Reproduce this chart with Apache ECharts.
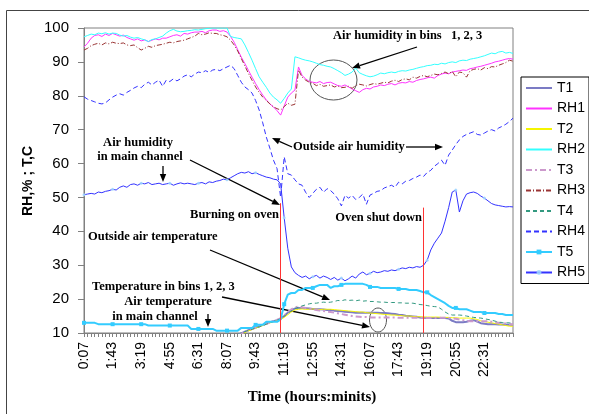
<!DOCTYPE html>
<html>
<head>
<meta charset="utf-8">
<script src="https://cdn.jsdelivr.net/npm/echarts@6/dist/echarts.min.js"></script>
<style>
  html, body { margin: 0; padding: 0; background: #fff; }
  #chart { width: 589px; height: 414px; }
</style>
</head>
<body>
<div id="chart"></div>
<script>
// time of each reading (12 min step)
const TIMES = [
  '0:07','0:19','0:31','0:43','0:55','1:07','1:19','1:31','1:43','1:55',
  '2:07','2:19','2:31','2:43','2:55','3:07','3:19','3:31','3:43','3:55',
  '4:07','4:19','4:31','4:43','4:55','5:07','5:19','5:31','5:43','5:55',
  '6:07','6:19','6:31','6:43','6:55','7:07','7:19','7:31','7:43','7:55',
  '8:07','8:19','8:31','8:43','8:55','9:07','9:19','9:31','9:43','9:55',
  '10:07','10:19','10:31','10:43','10:55','11:07','11:19','11:31','11:43','11:55',
  '12:07','12:19','12:31','12:43','12:55','13:07','13:19','13:31','13:43','13:55',
  '14:07','14:19','14:31','14:43','14:55','15:07','15:19','15:31','15:43','15:55',
  '16:07','16:19','16:31','16:43','16:55','17:07','17:19','17:31','17:43','17:55',
  '18:07','18:19','18:31','18:43','18:55','19:07','19:19','19:31','19:43','19:55',
  '20:07','20:19','20:31','20:43','20:55','21:07','21:19','21:31','21:43','21:55',
  '22:07','22:19','22:31','22:43','22:55','23:07','23:19','23:31','23:43','23:55',
  '24:07'
];
const TICK_LABELS = ['0:07','1:43','3:19','4:55','6:31','8:07','9:43','11:19',
  '12:55','14:31','16:07','17:43','19:19','20:55','22:31'];
const Y_TICKS = [10, 20, 30, 40, 50, 60, 70, 80, 90, 100];

const OVEN_ON = '11:07';
const OVEN_OFF = '19:07';

// bin temperatures T1..T4 start at 8:43 (below 10 before that)
const TEMP_START = 43;

const T1 = [
  9.4, 9.9, 10.4, 10.8, 11.2, 11.6, 12.0,
  12.4, 12.8, 13.2, 13.5, 13.8, 14.2, 15.0, 16.0, 16.8, 17.2,
  17.4, 17.4, 17.3, 17.2, 17.1, 17.0, 17.0, 16.9, 16.8, 16.8,
  16.6, 16.5, 16.4, 16.3, 16.2, 16.1, 16.0, 16.0, 16.0, 16.0,
  16.0, 16.0, 16.0, 15.9, 15.9, 15.8, 15.7, 15.6, 15.4, 15.3,
  15.1, 15.0, 14.9, 14.8, 14.6, 14.5, 14.4, 14.4, 14.4, 14.4,
  14.4, 14.4, 14.3, 13.6, 13.2, 13.2, 13.2, 13.3, 13.6, 13.8,
  13.4, 12.9, 12.7, 12.6, 12.6, 12.6, 12.5, 12.5, 12.4, 12.4, 12.4
];
const T2 = [
  9.0, 9.6, 10.1, 10.6, 11.0, 11.4, 11.8,
  12.2, 12.6, 13.0, 13.3, 13.6, 14.0, 14.6, 15.4, 16.2, 16.8,
  17.0, 17.1, 17.0, 17.0, 17.1, 17.0, 16.9, 17.0, 17.0, 17.0,
  16.9, 16.8, 16.7, 16.6, 16.5, 16.4, 16.3, 16.2, 16.2, 16.0,
  15.9, 15.8, 15.7, 15.6, 15.5, 15.4, 15.3, 15.3, 15.2, 15.1,
  15.0, 15.0, 14.9, 14.8, 14.8, 14.7, 14.7, 14.7, 14.7, 14.7,
  14.6, 14.6, 14.6, 14.5, 14.5, 14.4, 14.4, 14.4, 14.4, 14.2,
  14.0, 13.6, 13.3, 13.2, 13.0, 12.8, 12.6, 12.4, 12.2, 12.0, 12.0
];
const T3 = [
  9.3, 9.8, 10.3, 10.8, 11.2, 11.6, 12.0,
  12.3, 12.7, 13.1, 13.5, 13.9, 14.4, 15.2, 16.2, 17.0, 17.6,
  17.8, 17.6, 17.4, 17.2, 17.0, 16.8, 16.6, 16.5, 16.3, 16.2,
  16.0, 15.8, 15.6, 15.4, 15.2, 15.0, 14.9, 14.8, 14.7, 14.7,
  14.6, 14.6, 14.6, 14.6, 14.6, 14.6, 14.6, 14.6, 14.5, 14.5,
  14.5, 14.5, 14.5, 14.5, 14.4, 14.4, 14.4, 14.4, 14.4, 14.5,
  14.5, 14.5, 14.4, 14.3, 14.2, 14.0, 13.8, 13.6, 13.5, 13.5,
  13.5, 13.5, 13.5, 13.5, 13.3, 13.2, 13.0, 12.9, 12.8, 12.6, 12.6
];
const T4 = [
  9.6, 10.0, 10.4, 10.8, 11.1, 11.5, 11.8,
  12.2, 12.6, 13.0, 13.4, 13.8, 14.2, 14.9, 15.8, 16.6, 17.2,
  17.6, 18.0, 18.3, 18.6, 18.8, 18.8, 19.0, 19.1, 19.0, 19.1,
  19.3, 19.6, 19.5, 19.8, 19.6, 19.7, 19.5, 19.7, 19.4, 19.5,
  19.3, 19.3, 19.2, 19.1, 19.1, 19.0, 19.0, 19.0, 18.9, 18.9,
  18.8, 18.8, 18.8, 18.6, 18.4, 18.3, 18.1, 17.9, 17.8, 17.7,
  17.0, 16.2, 15.6, 15.3, 15.3, 15.3, 15.2, 15.0, 14.8, 14.6,
  14.5, 14.4, 14.2, 14.0, 13.8, 13.5, 13.2, 13.1, 13.0, 13.0, 12.9
];
const T5 = [
  13.0, 13.0, 13.0, 13.0, 12.6, 12.6, 12.6, 12.6, 12.6, 12.6,
  12.6, 12.6, 12.6, 12.6, 12.6, 12.6, 12.6, 12.6, 12.2, 12.2,
  12.2, 12.2, 12.2, 12.2, 12.2, 12.2, 12.2, 12.2, 12.2, 12.2,
  11.2, 11.2, 11.2, 11.2, 11.2, 11.2, 11.2, 10.7, 10.7, 10.7,
  10.7, 10.7, 10.7, 10.7, 11.5, 11.5, 11.5, 11.5, 12.4, 12.4,
  12.4, 13.3, 13.3, 13.3, 13.3, 14.0, 18.5, 21.3, 21.8, 21.8,
  22.7, 22.7, 23.3, 23.3, 23.3, 23.8, 24.2, 24.2, 24.2, 23.3,
  23.8, 23.8, 24.2, 24.5, 24.5, 24.5, 24.5, 24.5, 24.5, 24.2,
  23.6, 23.6, 23.6, 23.3, 23.3, 23.3, 23.3, 23.3, 23.0, 23.0,
  23.0, 22.7, 22.7, 22.7, 22.4, 22.0, 22.0, 21.2, 20.6, 20.0,
  19.4, 18.8, 18.0, 17.4, 17.4, 17.0, 17.0, 17.0, 16.6, 16.2,
  16.2, 16.2, 15.9, 15.9, 15.9, 15.9, 15.6, 15.6, 15.3, 15.3, 15.3
];

const RH1 = [
  94.4, 95.5, 97.0, 97.8, 98.0, 97.5, 98.2, 97.8, 98.4, 98.0,
  97.6, 97.9, 97.2, 96.8, 96.4, 96.8, 96.2, 96.5, 96.0, 96.4,
  96.8, 96.5, 97.0, 97.0, 97.4, 97.8, 98.0, 97.6, 98.4, 98.2,
  98.6, 98.8, 98.8, 99.0, 98.6, 99.2, 99.4, 99.4, 99.0, 99.2,
  98.8, 97.5, 95.8, 93.6, 91.4, 89.5, 87.5, 85.5, 83.6, 81.8,
  80.2, 78.8, 77.6, 76.7, 75.6, 74.3, 77.0, 79.6, 80.8, 81.7,
  88.5, 86.0, 85.0, 84.2, 84.0, 83.8, 84.2, 83.6, 83.9, 84.0,
  83.5, 83.0, 82.8, 83.2, 82.6, 82.0, 81.5, 81.0, 81.8, 82.2,
  82.0, 82.6, 82.8, 83.2, 83.0, 83.4, 83.6, 83.2, 83.7, 83.9,
  83.8, 84.2, 84.0, 84.5, 84.8, 85.0, 85.3, 85.5, 85.2, 86.0,
  86.4, 86.7, 86.5, 87.0, 87.2, 87.4, 87.6, 87.5, 88.0, 88.2,
  88.5, 88.7, 89.0, 89.3, 89.6, 90.0, 90.2, 90.5, 90.8, 91.0, 90.8
];
const RH2 = [
  97.4, 97.8, 98.2, 98.0, 98.5, 98.3, 98.6, 98.2, 98.5, 98.4,
  97.9, 97.6, 97.8, 97.3, 97.0, 97.2, 96.8, 96.5, 96.0, 96.6,
  96.8, 97.2, 97.6, 98.5, 99.2, 99.6, 99.1, 98.9, 99.0, 99.2,
  99.3, 99.5, 99.4, 99.6, 99.8, 99.9, 100, 100, 100, 100,
  100, 97.5, 97.2, 97.0, 96.8, 95.0, 92.8, 90.5, 88.0, 85.6,
  84.0, 82.5, 80.8, 79.6, 78.8, 77.8, 79.2, 80.8, 82.0, 91.5,
  91.2, 90.8, 90.5, 90.3, 90.0, 89.6, 89.2, 89.0, 88.7, 88.5,
  88.0, 87.4, 86.8, 86.0, 86.4, 87.0, 88.2, 86.8, 86.3, 85.9,
  85.6, 85.8, 86.2, 86.7, 86.5, 86.8, 87.0, 86.8, 87.2, 87.4,
  87.3, 87.6, 87.8, 88.1, 88.4, 88.6, 88.9, 89.0, 89.3, 89.2,
  89.6, 89.4, 89.8, 90.0, 89.8, 90.3, 90.5, 90.4, 90.8, 91.0,
  91.2, 91.5, 91.8, 92.2, 92.6, 92.4, 92.9, 93.1, 92.6, 92.8, 92.5
];
const RH3 = [
  93.5, 94.0, 94.8, 95.2, 95.5, 95.0, 95.6, 95.3, 95.8, 95.5,
  95.4, 95.6, 95.0, 94.8, 95.0, 94.2, 93.5, 94.0, 94.6, 94.3,
  94.8, 95.0, 95.2, 95.5, 95.8, 95.6, 96.0, 96.2, 96.4, 96.8,
  97.2, 97.6, 98.4, 98.0, 98.2, 98.6, 98.4, 98.4, 98.0, 97.8,
  97.4, 96.4, 95.0, 93.2, 91.0, 88.8, 86.6, 84.6, 82.6, 81.0,
  79.6, 78.6, 77.6, 76.7, 76.2, 75.8, 76.8, 77.8, 77.2, 77.5,
  87.6, 85.5, 84.6, 84.0, 83.7, 83.0, 83.4, 82.8, 83.0, 83.2,
  82.6, 82.9, 82.4, 82.5, 82.8, 82.2, 83.0, 83.4, 83.2, 82.9,
  83.3, 83.6, 83.4, 83.7, 84.0, 83.8, 84.3, 84.6, 84.2, 84.8,
  85.0, 84.7, 85.5, 85.2, 85.7, 86.0, 85.6, 86.0, 86.4, 86.2,
  86.6, 87.0, 86.5, 87.2, 85.6, 87.0, 86.8, 85.5, 87.4, 87.8,
  88.0, 87.6, 88.3, 88.0, 88.6, 88.5, 89.0, 89.4, 89.8, 90.5, 90.2
];
const RH4 = [
  79.7, 79.0, 78.6, 78.2, 77.8, 77.6, 77.9, 78.8, 79.6, 80.2,
  80.6, 80.2, 81.0, 81.6, 82.3, 82.8, 82.4, 83.4, 84.0, 83.2,
  84.0, 84.6, 82.8, 84.6, 84.2, 85.0, 84.4, 85.0, 85.8, 86.2,
  85.6, 86.4, 87.0, 86.8, 87.4, 86.9, 87.6, 87.8, 87.4, 88.0,
  88.5, 89.0, 88.0, 86.0, 84.0, 82.6, 81.8, 80.8, 78.6, 75.8,
  72.0, 67.8, 64.5, 61.0, 58.5, 50.0, 62.0, 57.0, 56.6, 55.2,
  54.0, 53.6, 51.5, 50.0, 51.2, 52.4, 53.0, 51.5, 52.6, 52.0,
  51.0, 49.6, 47.5, 50.6, 49.8, 50.6, 49.4, 50.0, 51.0, 48.0,
  50.7, 51.2, 51.8, 52.0, 52.8, 53.2, 53.6, 53.0, 54.5, 54.0,
  54.8, 55.0, 55.6, 56.0, 56.6, 56.2, 57.4, 58.0, 59.2, 60.0,
  61.0, 59.5, 62.5, 64.0, 65.6, 67.0, 68.0, 68.6, 69.0, 69.4,
  68.6, 68.4, 69.0, 69.6, 70.0, 69.6, 70.5, 71.0, 71.6, 72.4, 73.4
];
const RH5 = [
  50.8, 51.0, 51.2, 51.0, 51.6, 51.4, 51.8, 52.0, 52.4, 52.2,
  53.0, 53.4, 53.0, 53.8, 54.0, 53.6, 54.2, 54.0, 54.4, 53.8,
  54.0, 54.2, 53.8, 54.0, 54.2, 53.6, 54.0, 54.3, 54.0, 54.2,
  54.0, 53.8, 54.2, 54.4, 54.0, 54.6, 54.4, 54.8, 55.0, 55.4,
  55.2, 55.8, 56.4, 57.0, 57.4, 57.2, 57.6, 57.0, 57.3, 56.8,
  56.4, 56.0, 55.8, 55.4, 55.2, 54.0, 44.0, 35.0, 29.5, 27.8,
  27.0, 26.4, 26.8, 26.0, 26.6, 27.0, 26.2, 26.8, 26.4, 25.8,
  26.4, 25.6, 26.2, 25.4, 26.0, 26.8, 26.2, 27.4, 28.0, 27.2,
  27.6, 28.2, 27.8, 28.0, 28.4, 28.2, 28.6, 28.4, 28.8, 29.2,
  29.0, 29.4, 29.2, 29.6, 29.4, 30.0, 31.5, 34.5, 36.5, 38.0,
  39.5, 43.0, 47.0, 51.6, 52.2, 45.7, 49.0, 51.0, 51.4, 51.6,
  51.2, 50.4, 49.8, 49.0, 48.2, 47.8, 47.6, 47.4, 47.2, 47.3, 47.2
];

const FONT = '"Liberation Sans", Arial, sans-serif';
const SERIF = '"Liberation Serif", "Times New Roman", serif';

function tempData(arr) {
  return arr.map((v, k) => [TIMES[TEMP_START + k], v]);
}

function line(name, data, color, width, type, extra) {
  return Object.assign({
    name: name,
    type: 'line',
    data: data,
    symbol: 'none',
    smooth: false,
    lineStyle: { color: color, width: width, type: type || 'solid' },
    itemStyle: { color: color },
    z: 2
  }, extra || {});
}

function arrow(x1, y1, x2, y2) {
  const a = Math.atan2(y2 - y1, x2 - x1);
  const L = 8, W = 3.2;
  const bx = x2 - L * Math.cos(a), by = y2 - L * Math.sin(a);
  const px = -Math.sin(a) * W, py = Math.cos(a) * W;
  return [
    { type: 'line', silent: true, shape: { x1: x1, y1: y1, x2: bx, y2: by },
      style: { stroke: '#000', lineWidth: 1.3 } },
    { type: 'polygon', silent: true,
      shape: { points: [[x2, y2], [bx + px, by + py], [bx - px, by - py]] },
      style: { fill: '#000' } }
  ];
}

function note(text, x, y, align) {
  return { type: 'text', x: x, y: y, silent: true,
    style: { text: text, fill: '#000', font: 'bold 12.5px ' + SERIF,
      align: align || 'left', verticalAlign: 'middle' } };
}

// legend entries: only T5 and RH5 show a marker
const LEGEND_NAMES = ['T1', 'RH1', 'T2', 'RH2', 'T3', 'RH3', 'T4', 'RH4', 'T5', 'RH5'];
const legendData = LEGEND_NAMES.map(n => (n === 'T5' || n === 'RH5')
  ? { name: n }
  : { name: n, itemStyle: { opacity: 0 } });

const chart = echarts.init(document.getElementById('chart'));

chart.setOption({
  animation: false,
  backgroundColor: '#fff',
  grid: { left: 84, right: 76, top: 28, bottom: 81, show: true,
    borderColor: '#808080', borderWidth: 1 },
  legend: {
    orient: 'vertical', left: 521, top: 77,
    borderColor: '#000', borderWidth: 1, padding: [4, 4, 4, 4],
    itemWidth: 26, itemHeight: 6, itemGap: 6.5,
    textStyle: { fontFamily: FONT, fontSize: 14, color: '#000' },
    data: legendData
  },
  xAxis: {
    type: 'category',
    data: TIMES,
    boundaryGap: false,
    axisLine: { lineStyle: { color: '#808080' } },
    axisTick: { interval: 0, length: 4, lineStyle: { color: '#808080' } },
    axisLabel: {
      interval: (i, v) => TICK_LABELS.includes(v),
      rotate: 90, margin: 9,
      fontFamily: FONT, fontSize: 14, color: '#000'
    },
    splitLine: { show: false }
  },
  yAxis: {
    type: 'value',
    min: Y_TICKS[0], max: Y_TICKS[Y_TICKS.length - 1], interval: 10,
    axisLine: { show: true, lineStyle: { color: '#808080' } },
    axisTick: { show: true, length: 6, lineStyle: { color: '#808080' } },
    axisLabel: { margin: 15, fontFamily: FONT, fontSize: 15, color: '#000' },
    splitLine: { show: false }
  },
  series: [
    line('T1', tempData(T1), '#7b7bc4', 2),
    line('RH1', RH1, '#ff33ff', 1),
    line('T2', tempData(T2), '#f5f500', 1),
    line('RH2', RH2, '#33ffff', 1),
    line('T3', tempData(T3), '#cc99cc', 2, [6, 3, 2, 3]),
    line('RH3', RH3, '#993333', 1, [5, 2, 1, 2]),
    line('T4', tempData(T4), '#339980', 1, [4, 3]),
    line('RH4', RH4, '#3333ff', 1, [5, 3]),
    line('T5', T5, '#33ccff', 2, 'solid', {
      symbol: 'rect', symbolSize: 4, showSymbol: true,
      itemStyle: { color: '#33ccff' }
    }),
    line('RH5', RH5, '#3333ff', 1, 'solid', {
      symbol: 'circle', symbolSize: 3, showSymbol: true,
      itemStyle: { color: 'rgba(160,215,255,0.85)' },
      markLine: {
        silent: true, symbol: 'none', label: { show: false },
        lineStyle: { color: '#ff3333', width: 1, type: 'solid' },
        data: [
          [{ coord: [OVEN_ON, 48.3] }, { coord: [OVEN_ON, 10] }],
          [{ coord: [OVEN_OFF, 47] }, { coord: [OVEN_OFF, 10] }]
        ]
      }
    })
  ],
  graphic: [
    { type: 'rect', silent: true, z: -10,
      shape: { x: 6.5, y: 10.5, width: 640, height: 440 },
      style: { fill: 'none', stroke: '#444', lineWidth: 1 } },
    { type: 'text', x: 28, y: 181, rotation: Math.PI / 2, silent: true,
      style: { text: 'RH,% ; T,C', fill: '#000', font: 'bold 14px ' + FONT,
        align: 'center', verticalAlign: 'middle' } },
    { type: 'text', x: 312, y: 397, silent: true,
      style: { text: 'Time (hours:minits)', fill: '#000', font: 'bold 15px ' + SERIF,
        align: 'center', verticalAlign: 'middle' } },

    note('Air humidity in bins   1, 2, 3', 333, 36),
    ...arrow(417, 47, 352, 68),
    { type: 'ellipse', silent: true, shape: { cx: 333.5, cy: 80, rx: 23.5, ry: 20 },
      style: { fill: 'none', stroke: '#555', lineWidth: 1 } },

    note('Outside air humidity', 293, 147),
    ...arrow(406, 147, 443, 147),
    ...arrow(292, 147, 272, 138),

    note('Air humidity', 138, 143, 'center'),
    note('in main channel', 140, 157, 'center'),
    ...arrow(163, 166, 163, 182),
    ...arrow(190, 160, 280, 205),

    note('Burning on oven', 279, 215, 'right'),
    note('Oven shut down', 422, 218, 'right'),

    note('Outside air temperature', 88, 237),
    ...arrow(210, 250, 330, 300),

    note('Temperature in bins 1, 2, 3', 92, 287),
    ...arrow(222, 297, 370, 327),
    note('Air temperature', 168, 302, 'center'),
    note('in main channel', 155, 317, 'center'),
    ...arrow(208, 314, 208, 327),
    { type: 'ellipse', silent: true, shape: { cx: 378, cy: 320, rx: 8.5, ry: 12 },
      style: { fill: 'none', stroke: '#555', lineWidth: 1 } }
  ]
});
</script>
</body>
</html>
